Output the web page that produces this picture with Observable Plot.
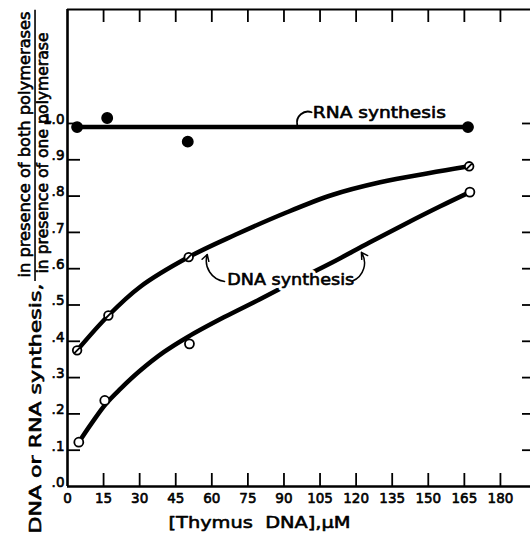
<!DOCTYPE html>
<html>
<head>
<meta charset="utf-8">
<script src="https://cdn.jsdelivr.net/npm/d3@7"></script>
<script src="https://cdn.jsdelivr.net/npm/@observablehq/plot@0.6"></script>
<style>
  html, body { margin: 0; padding: 0; background: #fff; overflow: hidden; }
  #chart svg { display: block; }
</style>
</head>
<body>
<div id="chart"></div>
<script>
// ---- axis ticks ----
const xTicks = [0, 15, 30, 45, 60, 75, 90, 105, 120, 135, 150, 165, 180];
const xTickLabels = ["0", "15", "30", "45", "60", "75", "90", "105", "120", "135", "150", "165", "180"];
const yTicks = [0, 0.1, 0.2, 0.3, 0.4, 0.5, 0.6, 0.7, 0.8, 0.9, 1.0];
const yTickLabels = [".0", ".1", ".2", ".3", ".4", ".5", ".6", ".7", ".8", ".9", "1.0"];

// ---- RNA synthesis (filled dots) ----
const rnaX = [4, 16.5, 50, 166.5];
const rnaY = [0.99, 1.015, 0.95, 0.99];
const rnaFitX = [4, 166.5];
const rnaFitY = [0.99, 0.99];

// ---- DNA synthesis, upper series (crossed circles) ----
const dnaAX = [4, 17, 50.4, 167];
const dnaAY = [0.375, 0.471, 0.632, 0.882];
const dnaAFitX = [4, 17, 30, 50.4, 70, 90, 110, 130, 150, 167];
const dnaAFitY = [0.375, 0.471, 0.549, 0.632, 0.694, 0.752, 0.803, 0.838, 0.863, 0.882];

// ---- DNA synthesis, lower series (open circles) ----
const dnaBX = [4.7, 15.5, 50.7, 167.3];
const dnaBY = [0.122, 0.237, 0.393, 0.811];
const dnaBFitX = [4.7, 10, 16, 22, 30, 40, 50, 65, 80, 95, 110, 125, 140, 155, 167.3];
const dnaBFitY = [0.122, 0.174, 0.228, 0.269, 0.318, 0.370, 0.412, 0.466, 0.516, 0.567, 0.617, 0.670, 0.722, 0.772, 0.811];

// ---- annotations (data units) ----
const labelText = ["RNA synthesis", "DNA synthesis"];
const labelX = [102, 66.4];
const labelY = [1.03, 0.569];
const leftArrow = {x1: 65.3, y1: 0.565, x2: 58.1, y2: 0.639};
const rightArrow = {x1: 118.5, y1: 0.566, x2: 122.2, y2: 0.645};
const rnaLeader = {x1: 95.5, y1: 0.997, x2: 101.5, y2: 1.031};
const fractionBar = {x: -13.5, y1: 0.565, y2: 1.312};

const xTitle = "[Thymus  DNA],\u03BCM";
const yTitle1 = "DNA or RNA synthesis,";
const yTitleNum = "in presence of both polymerases";
const yTitleDen = "in presence of one polymerase";

const zip = (xs, ys) => xs.map((x, i) => ({x, y: ys[i]}));
const rna = zip(rnaX, rnaY), rnaFit = zip(rnaFitX, rnaFitY);
const dnaA = zip(dnaAX, dnaAY), dnaAFit = zip(dnaAFitX, dnaAFitY);
const dnaB = zip(dnaBX, dnaBY), dnaBFit = zip(dnaBFitX, dnaBFitY);
const labels = labelText.map((t, i) => ({t, x: labelX[i], y: labelY[i]}));

// circle with a slash
const slashedCircle = {
  draw(context, size) {
    const r = Math.sqrt(size / Math.PI);
    context.moveTo(r, 0);
    context.arc(0, 0, r, 0, 2 * Math.PI);
    const k = r * 0.75;
    context.moveTo(-k, k);
    context.lineTo(k, -k);
  }
};

const FONT = "DejaVu Sans, sans-serif";
const innerW = 530 - 67, innerH = 535 - 9 - 49;
const ink = {fill: "#000", stroke: "#000", strokeWidth: 0.6};

const chart = Plot.plot({
  width: 530,
  height: 535,
  marginLeft: 67,
  marginRight: 0,
  marginTop: 9,
  marginBottom: 49,
  style: {fontFamily: FONT, color: "#000", background: "#fff"},
  x: {domain: [0, 192.5], axis: null},
  y: {domain: [0, 1.314], axis: null},
  marks: [
    // frame lines
    Plot.ruleX([0], {strokeWidth: 2.6}),
    Plot.ruleY([0], {strokeWidth: 2.6}),
    Plot.ruleY([1.314], {strokeWidth: 2}),
    // inward ticks
    Plot.tickX(xTicks.slice(1), {x: d => d, insetTop: innerH - 13, strokeWidth: 1.8}),
    Plot.tickX(xTicks.slice(1), {x: d => d, insetBottom: innerH - 13, strokeWidth: 1.8}),
    Plot.tickY(yTicks.slice(1), {y: d => d, insetRight: innerW - 13, strokeWidth: 1.8}),
    Plot.tickY(yTicks.slice(1), {y: d => d, insetLeft: innerW - 8, strokeWidth: 1.8}),
    // tick labels
    Plot.axisX(xTicks, {anchor: "bottom", tickSize: 0, tickPadding: 7, fontSize: 13.5,
      textStroke: "#000", textStrokeWidth: 0.6,
      tickFormat: d => xTickLabels[xTicks.indexOf(d)], label: null}),
    Plot.axisY(yTicks, {anchor: "left", tickSize: 0, tickPadding: 3, fontSize: 13.5, dy: -4,
      textStroke: "#000", textStrokeWidth: 0.6,
      tickFormat: d => yTickLabels[yTicks.indexOf(d)], label: null}),
    // fitted lines
    Plot.line(rnaFit, {x: "x", y: "y", strokeWidth: 4.5}),
    Plot.line(dnaAFit, {x: "x", y: "y", strokeWidth: 4.5, curve: "catmull-rom"}),
    Plot.line(dnaBFit, {x: "x", y: "y", strokeWidth: 4.5, curve: "catmull-rom"}),
    // annotation text: white halo, then ink
    Plot.text(labels, {x: "x", y: "y", text: "t", textAnchor: "start", fontSize: 15.5,
      fill: "#fff", stroke: "#fff", strokeWidth: 6}),
    Plot.text(labels, {x: "x", y: "y", text: "t", textAnchor: "start", fontSize: 15.5, ...ink}),
    Plot.arrow([leftArrow], {x1: "x1", y1: "y1", x2: "x2", y2: "y2", bend: 50, strokeWidth: 1.5, headLength: 7}),
    Plot.arrow([rightArrow], {x1: "x1", y1: "y1", x2: "x2", y2: "y2", bend: -50, strokeWidth: 1.5, headLength: 7}),
    Plot.arrow([rnaLeader], {x1: "x1", y1: "y1", x2: "x2", y2: "y2", bend: 60, strokeWidth: 1.8, headLength: 0}),
    // markers
    Plot.dot(rna, {x: "x", y: "y", r: 5.2, fill: "#000", stroke: "#000"}),
    Plot.dot(dnaA, {x: "x", y: "y", r: 4.3, symbol: slashedCircle, fill: "#fff", stroke: "#000", strokeWidth: 1.8}),
    Plot.dot(dnaB, {x: "x", y: "y", r: 4.5, fill: "#fff", stroke: "#000", strokeWidth: 1.8}),
    // axis titles
    Plot.text([xTitle], {text: d => d, frameAnchor: "bottom-left", dx: 101, dy: 36,
      textAnchor: "start", lineAnchor: "middle", fontSize: 16.5, ...ink}),
    Plot.text([yTitle1], {text: d => d, frameAnchor: "bottom-left", dx: -32, dy: 47,
      rotate: -90, textAnchor: "start", lineAnchor: "middle", fontSize: 16.5, ...ink}),
    Plot.text([yTitleNum], {text: d => d, frameAnchor: "bottom-left", dx: -42, dy: -209,
      rotate: -90, textAnchor: "start", lineAnchor: "middle", fontSize: 15.5, ...ink}),
    Plot.ruleX([fractionBar], {x: "x", y1: "y1", y2: "y2", strokeWidth: 1.6}),
    Plot.text([yTitleDen], {text: d => d, frameAnchor: "bottom-left", dx: -24, dy: -213,
      rotate: -90, textAnchor: "start", lineAnchor: "middle", fontSize: 15.5, ...ink})
  ]
});

// stretch text runs to the widths seen in the reference
const textLengths = {
  [xTitle]: 182,
  [yTitle1]: 250,
  [yTitleNum]: 266,
  [yTitleDen]: 241,
  "RNA synthesis": 133,
  "DNA synthesis": 127
};
d3.select(chart).selectAll("text").each(function () {
  const L = textLengths[this.textContent];
  if (L) {
    this.setAttribute("textLength", L);
    this.setAttribute("lengthAdjust", "spacingAndGlyphs");
  }
});
document.getElementById("chart").appendChild(chart);
</script>
</body>
</html>
